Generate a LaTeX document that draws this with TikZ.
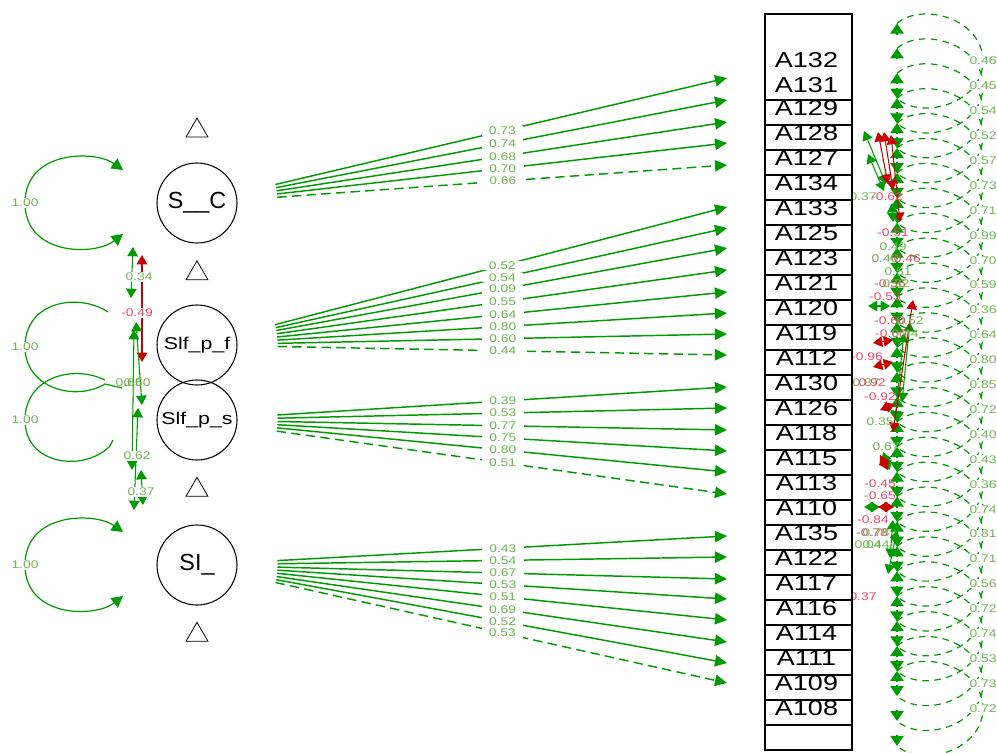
\documentclass[tikz,border=0pt]{standalone}
\usepackage{fontspec}
\setmainfont{Liberation Sans}
\newfontfamily\widesans[FakeStretch=1.25]{Liberation Sans}
\usetikzlibrary{arrows.meta,shapes.geometric}

\definecolor{edgegreen}{RGB}{0,155,0}
\definecolor{edgered}{RGB}{200,0,0}
\definecolor{labelgreen}{RGB}{110,180,80}
\definecolor{labelred}{RGB}{235,70,105}

\begin{document}
\begin{tikzpicture}[x=0.75pt,y=-0.75pt]
  \tikzset{LatentStyle/.style    = {shape          = circle,
                                    draw,
                                    line width     = 0.8pt,
                                    inner sep      = 0pt,
                                    minimum size   = 60pt}}
  \tikzset{ManifestStyle/.style  = {shape          = rectangle,
                                    draw,
                                    fill           = white,
                                    line width     = 1pt,
                                    inner sep      = 0pt,
                                    minimum width  = 65.25pt,
                                    minimum height = 18.75pt}}
  \tikzset{ManifestText/.style   = {font = \widesans\fontsize{16.2}{16.2}\selectfont,
                                    inner sep      = 0pt}}
  \tikzset{InterceptStyle/.style = {regular polygon,
                                    regular polygon sides = 3,
                                    draw,
                                    line width     = 0.6pt,
                                    inner sep      = 0pt,
                                    minimum size   = 19pt}}
  \tikzset{EdgeLabel/.style      = {font = \widesans\fontsize{8.3}{8.3}\selectfont,
                                    text           = labelgreen,
                                    inner sep      = 0.5pt}}
  \tikzset{EdgeLabelBG/.style    = {EdgeLabel,
                                    fill           = white,
                                    inner xsep     = 5.5pt}}
  \tikzset{LoadStyle/.style      = {edgegreen,
                                    line width     = 1.1pt,
                                    shorten <=     30pt,
                                    -{Triangle[length=9pt,width=8.5pt]}}}
  \tikzset{FixedDash/.style      = {dash pattern   = on 7pt off 4pt}}
  \tikzset{VarStyle/.style       = {edgegreen,
                                    line width     = 0.9pt}}
  \tikzset{VarTips/.style        = {{Triangle[length=8.5pt,width=9pt]}-{Triangle[length=8.5pt,width=9pt]}}}
  \tikzset{ResidStyle/.style     = {edgegreen,
                                    line width     = 0.9pt,
                                    dash pattern   = on 5pt off 4pt}}
  \tikzset{ResidTip/.style       = {edgegreen,
                                    line width     = 0.9pt,
                                    -{Triangle[length=7.5pt,width=10pt]}}}
  \tikzset{CovGreen/.style       = {edgegreen,
                                    line width     = 0.8pt,
                                    {Triangle[length=7pt,width=8pt]}-{Triangle[length=7pt,width=8pt]}}}
  \tikzset{CovRed/.style         = {CovGreen,
                                    edgered}}

  \useasboundingbox (0,0) rectangle (997,753);

  % latent variables and their intercepts
  \node[LatentStyle, font=\fontsize{17.5}{17.5}\selectfont] (SC) at (197,203) {S\_\_C};
  \node[LatentStyle, font=\widesans\fontsize{12.8}{12.8}\selectfont] (SPF) at (197,345) {Slf\_p\_f};
  \node[LatentStyle, font=\widesans\fontsize{12.8}{12.8}\selectfont] (SPS) at (197,420) {Slf\_p\_s};
  \node[LatentStyle, font=\fontsize{17.5}{17.5}\selectfont] (SI) at (197,565) {SI\_};

  \node[InterceptStyle] (int1) at (197,130.7) {};
  \node[InterceptStyle] (int2) at (197,273.5) {};
  \node[InterceptStyle] (int3) at (197,490) {};
  \node[InterceptStyle] (int4) at (197,635) {};

  % residual variances of the items
  \foreach \lab [count=\k from 0] in {0.46,0.45,0.54,0.52,0.57,0.73,0.71,0.99,0.70,0.59,
                                      0.36,0.64,0.80,0.85,0.72,0.40,0.43,0.36,0.74,0.81,
                                      0.71,0.56,0.72,0.74,0.53,0.73,0.72}{
    \pgfmathsetmacro\c{61+24.9*\k}
    \coordinate (rt\k) at (897,\c-37.5);
    \coordinate (rm\k) at (983,\c);
    \coordinate (rb\k) at (897,\c+37.5);
    \draw[ResidStyle] (rt\k) .. controls +(25,-22) and +(0,-42) .. (rm\k)
                             .. controls +(0,42) and +(25,22) .. (rb\k);
    \draw[ResidTip] (897,\c-26.5) -- (rt\k);
    \draw[ResidTip] (897,\c+26.5) -- (rb\k);
  }
  \foreach \lab [count=\k from 0] in {0.46,0.45,0.54,0.52,0.57,0.73,0.71,0.99,0.70,0.59,
                                      0.36,0.64,0.80,0.85,0.72,0.40,0.43,0.36,0.74,0.81,
                                      0.71,0.56,0.72,0.74,0.53,0.73,0.72}
    \node[EdgeLabelBG, inner xsep=1pt] (rl\k) at (rm\k) {\lab};

  % residual covariances between items
  \foreach \xa/\ya/\xb/\yb/\st [count=\n] in {
      864/131/886/184/CovGreen, 868/154/884/191/CovGreen,
      878/132/888/184/CovRed, 884/132/893/190/CovRed, 891/135/900/222/CovRed,
      892/203/893/222/CovGreen, 868/306/890/306/CovGreen,
      910/322/902/402/CovGreen, 904/333/895/420/CovGreen, 913/300/893/432/CovRed,
      873/343/893/340/CovRed, 873/367/893/362/CovRed, 880/410/895/404/CovRed,
      883/452/890/470/CovGreen, 880/455/888/470/CovRed,
      864/507/880/507/CovGreen, 878/507/894/507/CovRed,
      893/520/890/558/CovGreen, 897/530/888/574/CovGreen}{
    \coordinate (ia\n) at (\xa,\ya);
    \coordinate (ib\n) at (\xb,\yb);
    \draw[\st] (ia\n) -- (ib\n);
  }
  \foreach \lx/\ly/\lc/\lt [count=\n] in {
      863/197/labelgreen/0.37, 887/197/labelred/-0.62, 893/233/labelred/-0.51,
      893/247/labelgreen/0.49, 885/259/labelgreen/0.40, 905/259/labelred/-0.46,
      898/272/labelgreen/0.51, 890/284/labelred/-0.36, 896/284/labelgreen/0.32,
      885/297/labelred/-0.53, 890/321/labelred/-0.60, 910/321/labelgreen/0.52,
      891/334/labelred/-0.60, 905/334/labelgreen/0.44, 867/357/labelred/-0.96,
      866/383/labelgreen/0.87, 872/383/labelred/0.92, 880/397/labelred/-0.92,
      880/422/labelgreen/0.35, 886/447/labelgreen/0.67, 880/484/labelred/-0.45,
      880/496/labelred/-0.65, 873/520/labelred/-0.84, 872/533/labelred/-0.78,
      876/533/labelgreen/0.78, 868/545/labelgreen/0.04, 876/545/labelgreen/0.44,
      863/597/labelred/0.37}
    \node[EdgeLabel, text=\lc] (il\n) at (\lx,\ly) {\lt};

  % factor loadings
  \foreach \ty/\ls [count=\i] in {78/solid,100/solid,122/solid,143/solid,165/FixedDash}{
    \coordinate (sc\i) at (727,\ty);
    \draw[LoadStyle,\ls] (SC) -- (sc\i);
  }
  \foreach \ty/\ls [count=\i] in {207/solid,228/solid,248/solid,270/solid,
                                  292/solid,313/solid,334/solid,355/FixedDash}{
    \coordinate (spf\i) at (727,\ty);
    \draw[LoadStyle,\ls] (SPF) -- (spf\i);
  }
  \foreach \ty/\ls [count=\i] in {387/solid,408/solid,430/solid,451/solid,472/solid,494/FixedDash}{
    \coordinate (sps\i) at (727,\ty);
    \draw[LoadStyle,\ls] (SPS) -- (sps\i);
  }
  \foreach \ty/\ls [count=\i] in {536/solid,557/solid,579/solid,599/solid,
                                  620/solid,642/solid,663/solid,683/FixedDash}{
    \coordinate (si\i) at (727,\ty);
    \draw[LoadStyle,\ls] (SI) -- (si\i);
  }

  \foreach \lab [count=\i] in {0.73,0.74,0.68,0.70,0.66}
    \path (SC) -- (sc\i) node[EdgeLabelBG,pos=0.542] (lsc\i) {\lab};
  \foreach \lab [count=\i] in {0.52,0.54,0.09,0.55,0.64,0.80,0.60,0.44}
    \path (SPF) -- (spf\i) node[EdgeLabelBG,pos=0.542] (lspf\i) {\lab};
  \foreach \lab [count=\i] in {0.39,0.53,0.77,0.75,0.80,0.51}
    \path (SPS) -- (sps\i) node[EdgeLabelBG,pos=0.542] (lsps\i) {\lab};
  \foreach \lab [count=\i] in {0.43,0.54,0.67,0.53,0.51,0.69,0.52,0.53}
    \path (SI) -- (si\i) node[EdgeLabelBG,pos=0.542] (lsi\i) {\lab};

  % latent variances
  \coordinate (SCtop) at (123,170);
  \coordinate (SCvar) at (25,203);
  \coordinate (SCbot) at (123,234);
  \draw[VarStyle,VarTips] (SCtop) .. controls (95,150) and (25,150) .. (SCvar)
                                  .. controls (25,256) and (95,256) .. (SCbot);

  \coordinate (SPFtop) at (108,312);
  \coordinate (SPFvar) at (25,347);
  \coordinate (SPFbot) at (105,384);
  \coordinate (SPFend) at (122,388);
  \draw[VarStyle] (SPFtop) .. controls (80,293) and (25,300) .. (SPFvar)
                           .. controls (25,388) and (75,402) .. (SPFbot) -- (SPFend);

  \coordinate (SPStop) at (105,380);
  \coordinate (SPSvar) at (25,420);
  \coordinate (SPSbot) at (110,446);
  \coordinate (SPSend) at (113,440);
  \draw[VarStyle] (SPStop) .. controls (72,364) and (25,378) .. (SPSvar)
                           .. controls (25,466) and (85,472) .. (SPSbot) -- (SPSend);

  \coordinate (SItop) at (123,532);
  \coordinate (SIvar) at (25,565);
  \coordinate (SIbot) at (123,596);
  \draw[VarStyle,VarTips] (SItop) .. controls (95,512) and (25,512) .. (SIvar)
                                  .. controls (25,618) and (95,618) .. (SIbot);

  \node[EdgeLabelBG, inner xsep=1pt] (vSC)  at (SCvar)  {1.00};
  \node[EdgeLabelBG, inner xsep=1pt] (vSPF) at (SPFvar) {1.00};
  \node[EdgeLabelBG, inner xsep=1pt] (vSPS) at (SPSvar) {1.00};
  \node[EdgeLabelBG, inner xsep=1pt] (vSI)  at (SIvar)  {1.00};

  % latent covariances
  \coordinate (cvA1) at (133,247); \coordinate (cvA2) at (131,298);
  \coordinate (cvB1) at (142,255); \coordinate (cvB2) at (142,362);
  \coordinate (cvC1) at (136,322); \coordinate (cvC2) at (142,405);
  \coordinate (cvD1) at (134,330); \coordinate (cvD2) at (132,470);
  \coordinate (cvE1) at (138,408); \coordinate (cvE2) at (134,510);
  \coordinate (cvF1) at (141,470); \coordinate (cvF2) at (143,505);
  \draw[CovGreen] (cvA1) -- (cvA2);
  \draw[CovRed]   (cvB1) -- (cvB2);
  \draw[CovGreen] (cvC1) -- (cvC2);
  \draw[CovGreen] (cvD1) -- (cvD2);
  \draw[CovGreen] (cvE1) -- (cvE2);
  \draw[CovGreen] (cvF1) -- (cvF2);
  \node[EdgeLabelBG, inner xsep=1pt] (lcvA) at (139,277) {0.34};
  \node[EdgeLabelBG, inner xsep=1pt, text=labelred] (lcvB) at (137,313) {-0.49};
  \node[EdgeLabel] (lcvC) at (129,383) {0.65};
  \node[EdgeLabel] (lcvD) at (137,383) {0.60};
  \node[EdgeLabelBG, inner xsep=1pt] (lcvE) at (137,456) {0.62};
  \node[EdgeLabelBG, inner xsep=1pt] (lcvF) at (141,492) {0.37};

  % observed items
  \node[ManifestStyle, minimum height=64.5pt] (box0) at (808.5,57) {};
  \foreach \j in {1,...,26}
    \node[ManifestStyle] (box\j) at (808.5,87.5+25*\j) {};

  \node[ManifestText] (A132) at (806.5,60) {A132};
  \node[ManifestText] (A131) at (806.5,85) {A131};
  \foreach \nm [count=\j from 0] in {A129,A128,A127,A134,A133,A125,A123,A121,A120,
                                     A119,A112,A130,A126,A118,A115,A113,A110,A135,
                                     A122,A117,A116,A114,A111,A109,A108}
    \node[ManifestText] (\nm) at (806.5,108+25*\j) {\nm};

\end{tikzpicture}
\end{document}
